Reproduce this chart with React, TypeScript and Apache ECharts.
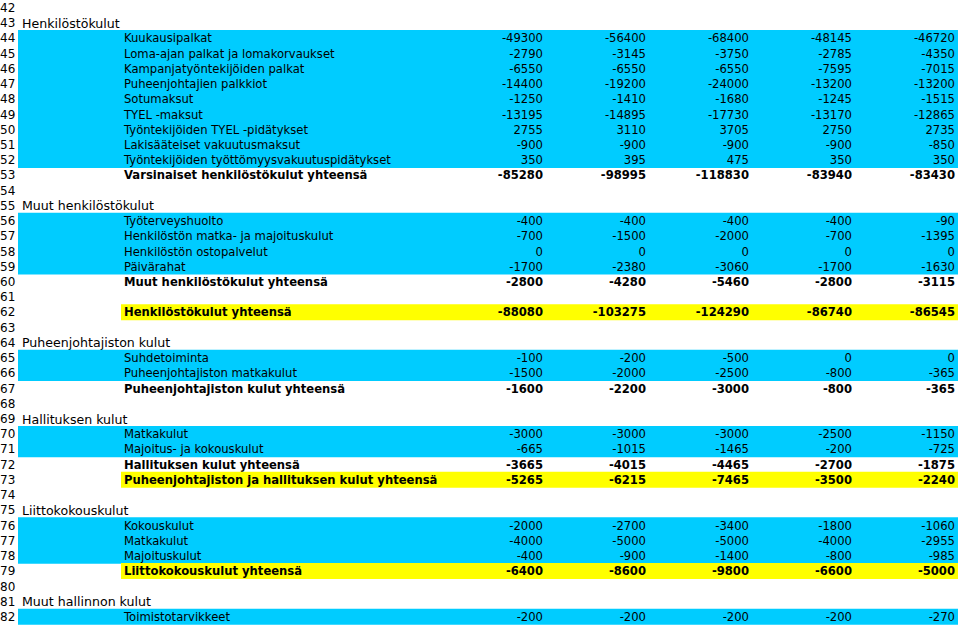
import React, { useEffect, useRef } from "react";
import * as echarts from "echarts";

// Spreadsheet row numbers
const rowNumbers: number[] = [
  42, 43, 44, 45, 46, 47, 48, 49, 50, 51, 52, 53, 54, 55, 56, 57, 58, 59, 60, 61,
  62, 63, 64, 65, 66, 67, 68, 69, 70, 71, 72, 73, 74, 75, 76, 77, 78, 79, 80, 81, 82,
];

// Row kinds: blank, header (section title), item (cyan), total (bold), grand (bold, yellow)
const rowKinds: string[] = [
  "blank", "header", "item", "item", "item", "item", "item", "item", "item", "item", "item", "total",
  "blank", "header", "item", "item", "item", "item", "total", "blank",
  "grand", "blank", "header", "item", "item", "total", "blank",
  "header", "item", "item", "total", "grand", "blank",
  "header", "item", "item", "item", "grand", "blank",
  "header", "item",
];

const rowLabels: string[] = [
  "", "Henkilöstökulut",
  "Kuukausipalkat", "Loma-ajan palkat ja lomakorvaukset", "Kampanjatyöntekijöiden palkat",
  "Puheenjohtajien palkkiot", "Sotumaksut", "TYEL -maksut", "Työntekijöiden TYEL -pidätykset",
  "Lakisääteiset vakuutusmaksut", "Työntekijöiden työttömyysvakuutuspidätykset",
  "Varsinaiset henkilöstökulut yhteensä",
  "", "Muut henkilöstökulut",
  "Työterveyshuolto", "Henkilöstön matka- ja majoituskulut", "Henkilöstön ostopalvelut", "Päivärahat",
  "Muut henkilöstökulut yhteensä", "",
  "Henkilöstökulut yhteensä", "", "Puheenjohtajiston kulut",
  "Suhdetoiminta", "Puheenjohtajiston matkakulut", "Puheenjohtajiston kulut yhteensä", "",
  "Hallituksen kulut", "Matkakulut", "Majoitus- ja kokouskulut", "Hallituksen kulut yhteensä",
  "Puheenjohtajiston ja hallituksen kulut yhteensä", "",
  "Liittokokouskulut", "Kokouskulut", "Matkakulut", "Majoituskulut", "Liittokokouskulut yhteensä", "",
  "Muut hallinnon kulut", "Toimistotarvikkeet",
];

// Five value columns (null = empty cell)
const col1: (number | null)[] = [
  null, null, -49300, -2790, -6550, -14400, -1250, -13195, 2755, -900, 350, -85280,
  null, null, -400, -700, 0, -1700, -2800, null,
  -88080, null, null, -100, -1500, -1600, null,
  null, -3000, -665, -3665, -5265, null,
  null, -2000, -4000, -400, -6400, null,
  null, -200,
];
const col2: (number | null)[] = [
  null, null, -56400, -3145, -6550, -19200, -1410, -14895, 3110, -900, 395, -98995,
  null, null, -400, -1500, 0, -2380, -4280, null,
  -103275, null, null, -200, -2000, -2200, null,
  null, -3000, -1015, -4015, -6215, null,
  null, -2700, -5000, -900, -8600, null,
  null, -200,
];
const col3: (number | null)[] = [
  null, null, -68400, -3750, -6550, -24000, -1680, -17730, 3705, -900, 475, -118830,
  null, null, -400, -2000, 0, -3060, -5460, null,
  -124290, null, null, -500, -2500, -3000, null,
  null, -3000, -1465, -4465, -7465, null,
  null, -3400, -5000, -1400, -9800, null,
  null, -200,
];
const col4: (number | null)[] = [
  null, null, -48145, -2785, -7595, -13200, -1245, -13170, 2750, -900, 350, -83940,
  null, null, -400, -700, 0, -1700, -2800, null,
  -86740, null, null, 0, -800, -800, null,
  null, -2500, -200, -2700, -3500, null,
  null, -1800, -4000, -800, -6600, null,
  null, -200,
];
const col5: (number | null)[] = [
  null, null, -46720, -4350, -7015, -13200, -1515, -12865, 2735, -850, 350, -83430,
  null, null, -90, -1395, 0, -1630, -3115, null,
  -86545, null, null, 0, -365, -365, null,
  null, -1150, -725, -1875, -2240, null,
  null, -1060, -2955, -985, -5000, null,
  null, -270,
];

const valueColumns = [col1, col2, col3, col4, col5];

// Layout (in x-axis units, which equal pixels)
const X_ROWNUM = 0;
const X_HEADER = 22;
const X_LABEL = 124;
const X_CYAN_START = 18;
const X_YELLOW_START = 121;
const X_FILL_END = 958;
const COL_RIGHT = [543, 646, 749, 852, 955];

const FONT = '"DejaVu Sans", Verdana, sans-serif';
const FS_CELL = 11.6;
const FS_HEADER = 12.6;
const FS_ROWNUM = 12;

export default function App() {
  const ref = useRef<HTMLDivElement>(null);

  useEffect(() => {
    if (!ref.current) return;
    const chart = echarts.init(ref.current, undefined, { renderer: "svg" });

    const renderItem = (params: any, api: any) => {
      const idx = api.value(1) as number;
      const kind = rowKinds[idx];
      const [, yc] = api.coord([0, idx]);
      const h = api.size([0, 1])[1];
      const top = yc - h / 2;
      const px = (v: number) => api.coord([v, idx])[0];
      const children: any[] = [];

      if (kind === "item" || kind === "grand") {
        const x0 = px(kind === "item" ? X_CYAN_START : X_YELLOW_START);
        const x1 = px(X_FILL_END);
        children.push({
          type: "rect",
          shape: { x: x0, y: top - 0.4, width: x1 - x0, height: h + 0.8 },
          style: { fill: kind === "item" ? "#00CCFF" : "#FFFF00" },
        });
      }

      const txt = (text: string, x: number, align: string, bold: boolean, size: number) => ({
        type: "text",
        style: {
          text,
          x,
          y: yc + 0.3,
          align,
          verticalAlign: "middle",
          fill: "#000",
          fontFamily: FONT,
          fontSize: size,
          fontWeight: bold ? "bold" : "normal",
        },
      });

      children.push(txt(String(rowNumbers[idx]), px(X_ROWNUM), "left", false, FS_ROWNUM));

      const bold = kind === "total" || kind === "grand";
      if (kind === "header") {
        children.push(txt(rowLabels[idx], px(X_HEADER), "left", false, FS_HEADER));
      } else if (rowLabels[idx]) {
        children.push(txt(rowLabels[idx], px(X_LABEL), "left", bold, FS_CELL));
      }

      valueColumns.forEach((col, c) => {
        const v = col[idx];
        if (v !== null && v !== undefined) {
          children.push(txt(String(v), px(COL_RIGHT[c]), "right", bold, FS_CELL));
        }
      });

      return { type: "group", children };
    };

    chart.setOption({
      animation: false,
      backgroundColor: "#ffffff",
      grid: { left: 0, right: 0, top: -1.2, bottom: 4.7, containLabel: false },
      xAxis: {
        type: "value",
        min: 0,
        max: 960,
        show: false,
        splitLine: { show: false },
      },
      yAxis: {
        type: "category",
        data: rowNumbers.map(String),
        inverse: true,
        show: false,
      },
      series: [
        {
          type: "custom",
          renderItem,
          clip: false,
          data: rowNumbers.map((_, i) => [0, i]),
          encode: { x: 0, y: 1 },
        },
      ],
    });

    return () => {
      chart.dispose();
    };
  }, []);

  return (
    <div
      ref={ref}
      style={{ position: "fixed", left: 0, top: 0, width: 960, height: 629 }}
    />
  );
}
